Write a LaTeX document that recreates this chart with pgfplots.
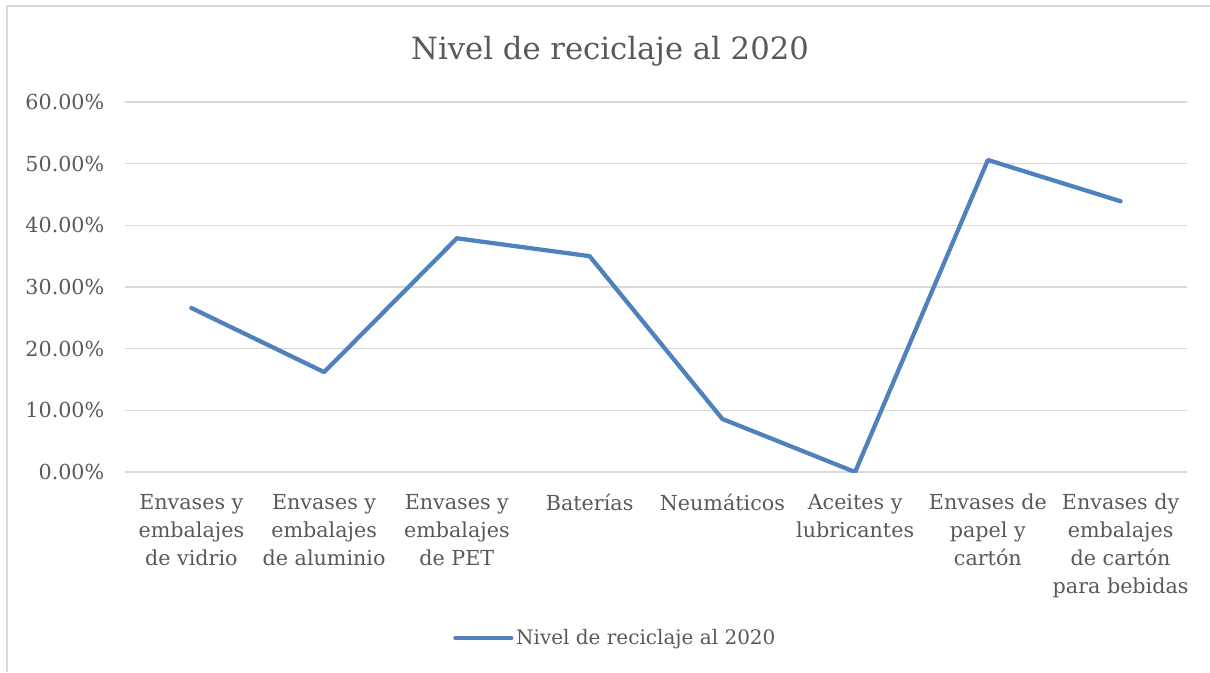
\documentclass[border=0pt]{standalone}
\usepackage{pgfplots}
\pgfplotsset{compat=1.18}
\usepackage{fontspec}
\setmainfont{DejaVu Serif}
\definecolor{txt}{HTML}{595959}
\definecolor{gridc}{HTML}{D9D9D9}
\definecolor{serie}{HTML}{4F81BD}
\begin{document}
\begin{tikzpicture}
\useasboundingbox (0,0) rectangle (907.5pt,504pt);
\draw[gridc, line width=1pt] (5.25pt,0pt) -- (5.25pt,499.5pt) -- (907.5pt,499.5pt);
\node[anchor=base, text=txt, font=\fontsize{23}{28}\selectfont] at (457.5pt,459pt) {Nivel de reciclaje al 2020};
\begin{axis}[
  at={(93.75pt,150pt)}, anchor=south west,
  scale only axis, width=796.5pt, height=277.5pt,
  xmin=-0.5, xmax=7.5, ymin=0, ymax=60,
  xtick={0,1,2,3,4,5,6,7},
  xticklabels={{Envases y\\embalajes\\de vidrio},{Envases y\\embalajes\\de aluminio},{Envases y\\embalajes\\de PET},{Baterías},{Neumáticos},{Aceites y\\lubricantes},{Envases de\\papel y\\cartón},{Envases dy\\embalajes\\de cartón\\para bebidas}},
  ytick={0,10,20,30,40,50,60},
  yticklabels={0.00\%,10.00\%,20.00\%,30.00\%,40.00\%,50.00\%,60.00\%},
  xticklabel style={align=center, text=txt, font=\fontsize{15.5}{21}\selectfont, anchor=north, yshift=-13pt},
  yticklabel style={text=txt, font=\fontsize{15.5}{21}\selectfont, xshift=-12pt},
  major tick length=0pt,
  axis line style={draw=none},
  ymajorgrids, grid style={gridc, line width=1pt},
  legend style={at={(0.462,-0.449)}, anchor=center, draw=none, fill=none,
    font=\fontsize{15}{18}\selectfont, text=txt, inner sep=0pt},
  legend image code/.code={\draw[#1] (0pt,0pt) -- (42pt,0pt);},
  legend cell align=left,
]
\addplot[serie, line width=3.2pt, line join=round, line cap=round, mark=none]
  coordinates {(0,26.6) (1,16.2) (2,37.9) (3,35.0) (4,8.6) (5,0.0) (6,50.6) (7,43.9)};
\addlegendentry{Nivel de reciclaje al 2020}
\end{axis}
\end{tikzpicture}
\end{document}
